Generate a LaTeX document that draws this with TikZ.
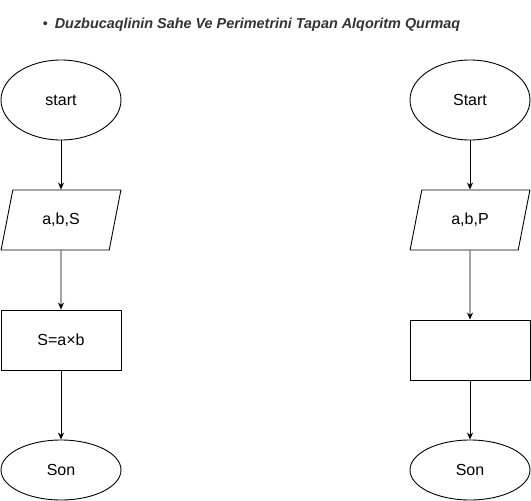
\documentclass[tikz,border=0pt]{standalone}
\usepackage{fontspec}
\setmainfont{Liberation Sans}
\usetikzlibrary{shapes.geometric,arrows.meta}
\definecolor{titlegrey}{HTML}{333333}

\begin{document}
\begin{tikzpicture}[x=1pt,y=-1pt,every path/.style={line width=0.9pt},
    term/.style={draw,ellipse,inner sep=0pt,minimum width=120pt,font=\fontsize{16}{19}\selectfont},
    io/.style={draw,trapezium,trapezium left angle=71.57,trapezium right angle=108.43,
        trapezium stretches=true,inner sep=0pt,minimum width=120pt,minimum height=60pt,
        font=\fontsize{16}{19}\selectfont},
    proc/.style={draw,rectangle,inner sep=0pt,minimum width=120pt,minimum height=60pt,
        font=\fontsize{16}{19}\selectfont},
    flow/.style={-{Stealth[length=7pt,width=6pt]}}]
  \useasboundingbox (0,0) rectangle (531,501);
  \node[anchor=west,text=titlegrey,font=\fontsize{14.4}{17}\selectfont] (title) at (39,25)
      {\textbullet\hspace{7pt}\textbf{\textit{Duzbucaqlinin Sahe Ve Perimetrini Tapan Alqoritm Qurmaq}}};

  % sahe
  \node[term,minimum height=80pt] (st1) at (61,100) {start};
  \node[io] (in1) at (61,220) {a,b,S};
  \node[proc] (calc1) at (61,340) {S=a×b};
  \node[term,minimum height=60pt] (end1) at (61,470) {Son};

  % perimetr
  \node[term,minimum height=80pt] (st2) at (470,100) {Start};
  \node[io] (in2) at (470,220) {a,b,P};
  \node[proc] (calc2) at (470,350) {};
  \node[term,minimum height=60pt] (end2) at (470,470) {Son};

  \draw[flow] (st1) -- (in1);
  \draw[flow] (in1) -- (calc1);
  \draw[flow] (calc1) -- (end1);
  \draw[flow] (st2) -- (in2);
  \draw[flow] (in2) -- (calc2);
  \draw[flow] (calc2) -- (end2);
\end{tikzpicture}
\end{document}
